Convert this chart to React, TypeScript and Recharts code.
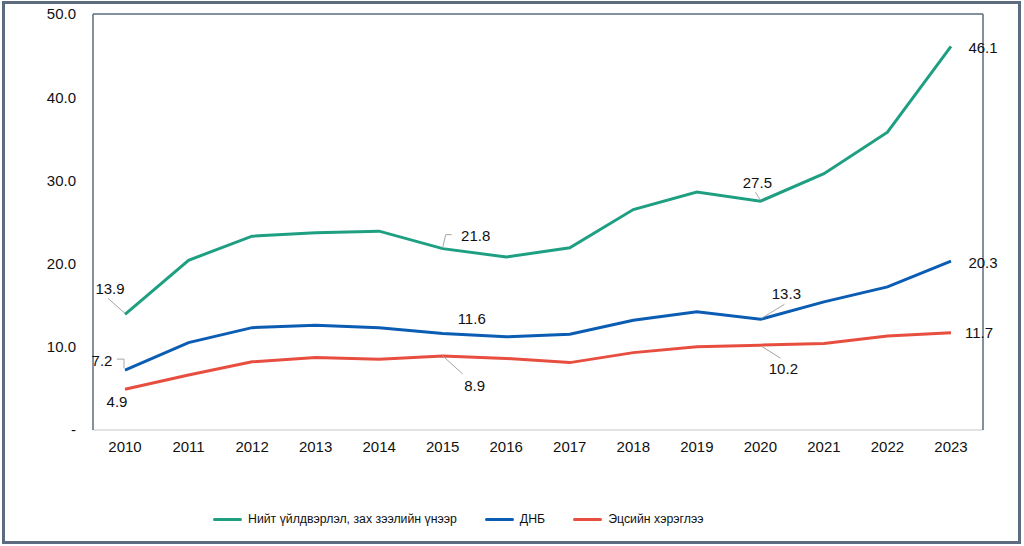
import { LabelList, Line, LineChart, XAxis, YAxis } from "recharts";

const years = ["2010", "2011", "2012", "2013", "2014", "2015", "2016", "2017", "2018", "2019", "2020", "2021", "2022", "2023"];
const grossOutput = [13.9, 20.4, 23.3, 23.7, 23.9, 21.8, 20.8, 21.9, 26.5, 28.6, 27.5, 30.8, 35.8, 46.1];
const gdp = [7.2, 10.5, 12.3, 12.6, 12.3, 11.6, 11.2, 11.5, 13.2, 14.2, 13.3, 15.4, 17.2, 20.3];
const consumption = [4.9, 6.6, 8.2, 8.7, 8.5, 8.9, 8.6, 8.1, 9.3, 10.0, 10.2, 10.4, 11.3, 11.7];
const yTicks = [0, 10, 20, 30, 40, 50];

const seriesNames = {
  gross: "Нийт үйлдвэрлэл, зах зээлийн үнээр",
  gdp: "ДНБ",
  cons: "Эцсийн хэрэглээ",
};

const colors = {
  gross: "#1f9f82",
  gdp: "#0b5cb3",
  cons: "#e84e3f",
  frame: "#5c6b7e",
  axis: "#d9d9d9",
  text: "#111111",
  leader: "#a6a6a6",
};

const data = years.map((year, i) => ({
  year,
  gross: grossOutput[i],
  gdp: gdp[i],
  cons: consumption[i],
}));

// which points get a value label, and where it sits relative to the point
type Placement = { dx: number; dy: number; leader?: number[][] };
const labelPlacement: Record<string, Record<number, Placement>> = {
  gross: {
    0: { dx: -15, dy: -26, leader: [[-17, -16], [0, -1]] },
    5: { dx: 33, dy: -13, leader: [[9, -14], [3, -14], [0, -1]] },
    10: { dx: -3, dy: -19, leader: [[-5, -9], [0, -1]] },
    13: { dx: 32, dy: 1 },
  },
  gdp: {
    0: { dx: -23, dy: -10, leader: [[-8, -11], [-1, -11], [-1, -2]] },
    5: { dx: 29, dy: -15 },
    10: { dx: 26, dy: -26, leader: [[24, -15], [1, -1]] },
    13: { dx: 32, dy: 1 },
  },
  cons: {
    0: { dx: -8, dy: 12 },
    5: { dx: 32, dy: 30, leader: [[0, 0], [20, 18]] },
    10: { dx: 23, dy: 23, leader: [[1, 1], [20, 13]] },
    13: { dx: 28, dy: 0 },
  },
};

const fontFamily = "'Liberation Sans', Arial, sans-serif";

function makeLabel(key: string) {
  return (props: any) => {
    const { x, y, value, index } = props;
    const p = labelPlacement[key][index];
    if (!p) return null;
    return (
      <g>
        {p.leader && (
          <polyline
            points={p.leader.map(([lx, ly]) => `${x + lx},${y + ly}`).join(" ")}
            fill="none"
            stroke={colors.leader}
            strokeWidth={1}
          />
        )}
        <text
          x={x + p.dx}
          y={y + p.dy}
          textAnchor="middle"
          dominantBaseline="central"
          fontSize={15}
          fill={colors.text}
          fontFamily={fontFamily}
        >
          {Number(value).toFixed(1)}
        </text>
      </g>
    );
  };
}

function LegendBar() {
  const items = [
    { key: "gross", color: colors.gross },
    { key: "gdp", color: colors.gdp },
    { key: "cons", color: colors.cons },
  ] as const;
  return (
    <div
      style={{
        position: "absolute",
        left: 213,
        top: 512,
        display: "flex",
        gap: 28,
        fontFamily,
        fontSize: 12.3,
        color: colors.text,
        whiteSpace: "nowrap",
      }}
    >
      {items.map((it) => (
        <div key={it.key} style={{ display: "flex", alignItems: "center", gap: 6 }}>
          <span style={{ display: "inline-block", width: 29, height: 3, background: it.color, borderRadius: 2 }} />
          <span>{seriesNames[it.key]}</span>
        </div>
      ))}
    </div>
  );
}

export default function App() {
  return (
    <div style={{ position: "fixed", left: 0, top: 0, width: 1024, height: 546, background: "#fff" }}>
      <LineChart
        width={1024}
        height={546}
        data={data}
        margin={{ top: 13, right: 40, bottom: 86, left: 0 }}
        style={{ fontFamily }}
      >
        <XAxis
          dataKey="year"
          padding={{ left: 32, right: 32 }}
          height={30}
          axisLine={{ stroke: colors.axis, strokeWidth: 1.5 }}
          tickLine={false}
          tickSize={0}
          tickMargin={11}
          tick={{ fill: colors.text, fontSize: 15 }}
          interval={0}
        />
        <XAxis
          xAxisId="top"
          orientation="top"
          dataKey="year"
          axisLine={{ stroke: colors.frame, strokeWidth: 1.5 }}
          tickLine={false}
          tick={false}
          height={1}
        />
        <YAxis
          domain={[0, 50]}
          ticks={yTicks}
          width={93}
          axisLine={{ stroke: colors.frame, strokeWidth: 1.5 }}
          tickLine={false}
          tickSize={0}
          tickMargin={17}
          tick={{ fill: colors.text, fontSize: 15 }}
          tickFormatter={(v) => (v === 0 ? "-" : Number(v).toFixed(1))}
        />
        <YAxis
          yAxisId="right"
          orientation="right"
          domain={[0, 50]}
          width={1}
          axisLine={{ stroke: colors.frame, strokeWidth: 1.5 }}
          tickLine={false}
          tick={false}
        />
        <Line
          dataKey="gross"
          name={seriesNames.gross}
          stroke={colors.gross}
          strokeWidth={3}
          dot={false}
          isAnimationActive={false}
        >
          <LabelList dataKey="gross" content={makeLabel("gross")} />
        </Line>
        <Line
          dataKey="gdp"
          name={seriesNames.gdp}
          stroke={colors.gdp}
          strokeWidth={3}
          dot={false}
          isAnimationActive={false}
        >
          <LabelList dataKey="gdp" content={makeLabel("gdp")} />
        </Line>
        <Line
          dataKey="cons"
          name={seriesNames.cons}
          stroke={colors.cons}
          strokeWidth={3}
          dot={false}
          isAnimationActive={false}
        >
          <LabelList dataKey="cons" content={makeLabel("cons")} />
        </Line>
      </LineChart>
      <LegendBar />
      <div
        style={{
          position: "absolute",
          left: 2,
          top: 1,
          width: 1013,
          height: 537,
          border: `3px solid ${colors.frame}`,
          pointerEvents: "none",
        }}
      />
    </div>
  );
}
